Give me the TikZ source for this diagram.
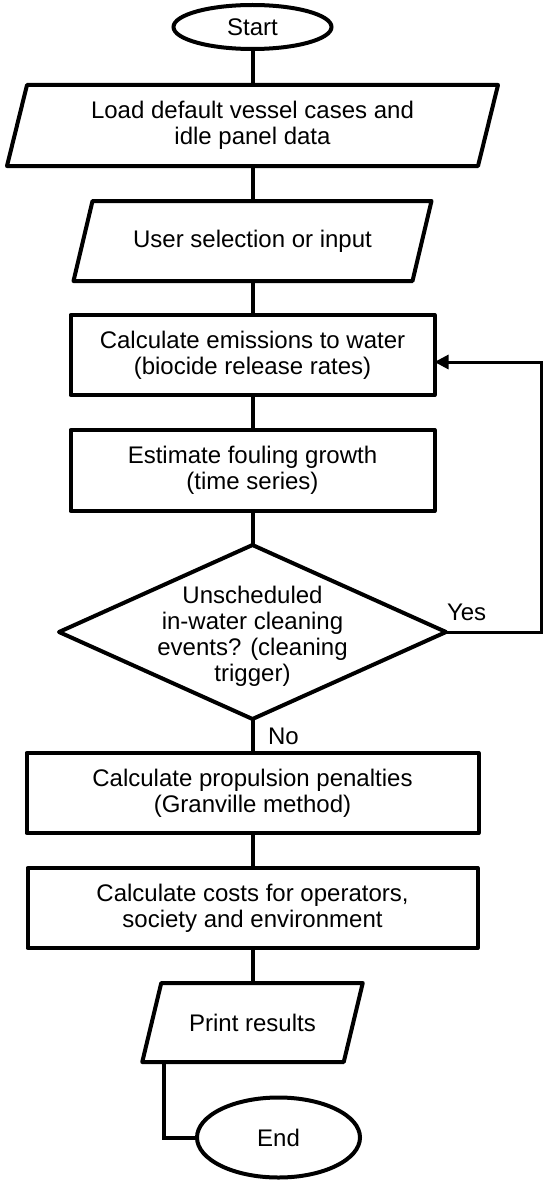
\documentclass[tikz,border=0pt]{standalone}
\usepackage{fontspec}
\setmainfont{Liberation Sans}
\usetikzlibrary{shapes.geometric,arrows.meta,calc}
\begin{document}
\begin{tikzpicture}[x=1pt,y=-1pt,
  every node/.style={font=\fontsize{24}{26}\selectfont, align=center, inner sep=0pt, outer sep=0pt},
  proc/.style={draw, rectangle, line width=4pt, line join=round},
  iobox/.style={rectangle},
  ioline/.style={line width=4pt, line join=round},
  term/.style={draw, ellipse, line width=4pt},
  dec/.style={draw, diamond, line width=4pt, line join=round},
  conn/.style={line width=4pt},
  loopline/.style={line width=3pt, line join=miter},
  lbl/.style={anchor=west}]
\useasboundingbox (0,0) rectangle (542,1180);
\fill[white] (0,0) rectangle (542,1180);

\node[term, minimum width=158pt, minimum height=44pt] (start) at (252.5,27) {Start};

\node[iobox, minimum width=471pt, minimum height=81pt] (p1) at (252.5,125.5) {Load default vessel cases and\\idle panel data};
\draw[ioline] ([xshift=10pt]p1.north west) -- ([xshift=10pt]p1.north east) -- ([xshift=-10pt]p1.south east) -- ([xshift=-10pt]p1.south west) -- cycle;

\node[iobox, minimum width=339pt, minimum height=80pt] (p2) at (252.5,241) {User selection or input};
\draw[ioline] ([xshift=9.5pt]p2.north west) -- ([xshift=9.5pt]p2.north east) -- ([xshift=-9.5pt]p2.south east) -- ([xshift=-9.5pt]p2.south west) -- cycle;

\node[proc, minimum width=364pt, minimum height=80pt] (b3) at (252.5,355) {Calculate emissions to water\\(biocide release rates)};
\node[proc, minimum width=364pt, minimum height=81pt] (b4) at (252.5,470.5) {Estimate fouling growth\\(time series)};

\node[dec, minimum width=387pt, minimum height=174pt] (D) at (252.5,632) {};
\node (dtext) at (252.5,636) {Unscheduled\\in-water cleaning\\events? (cleaning\\trigger)};

\node[proc, minimum width=452pt, minimum height=80pt] (b5) at (252.5,793) {Calculate propulsion penalties\\(Granville method)};
\node[proc, minimum width=450pt, minimum height=80pt] (b6) at (252.5,908) {Calculate costs for operators,\\society and environment};

\node[iobox, minimum width=201.5pt, minimum height=79pt] (p3) at (252.5,1022.5) {Print results};
\draw[ioline] ([xshift=9.5pt]p3.north west) -- ([xshift=9.5pt]p3.north east) -- ([xshift=-9.5pt]p3.south east) -- ([xshift=-9.5pt]p3.south west) -- cycle;

\node[term, minimum width=163pt, minimum height=80pt] (end) at (278.5,1137.5) {End};

% connectors
\draw[conn] (start) -- (p1);
\draw[conn] (p1) -- (p2);
\draw[conn] (p2) -- (b3);
\draw[conn] (b3) -- (b4);
\draw[conn] (b4) -- (D);
\draw[conn] (D) -- (b5);
\draw[conn] (b5) -- (b6);
\draw[conn] (b6) -- (p3);
\coordinate (p3out) at ([xshift=12.5pt]p3.south west);
\draw[conn, line join=miter] (p3out) |- (end.west);

\coordinate (loopR) at (541,632);
\coordinate (b3in) at ([yshift=-7pt]b3.east);
\draw[loopline, -{Triangle[length=14pt,width=14pt]}] (D.east) -- (D.east -| loopR) |- (b3in);

\node[lbl] (yes) at (447,612.5) {Yes};
\node[lbl] (no) at (268,736.5) {No};
\end{tikzpicture}
\end{document}
